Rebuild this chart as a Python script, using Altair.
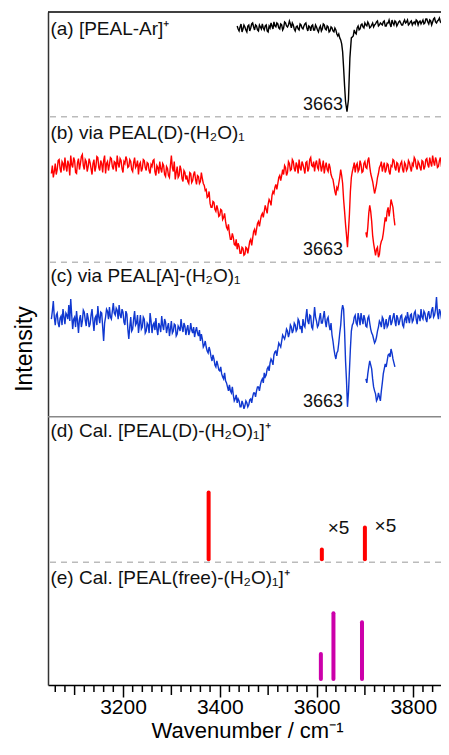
import altair as alt
import pandas as pd

FONT = "Liberation Sans"
X_DOMAIN = [3045, 3857.3]
Y_DOMAIN = [0, 675]

# ---------------- data ----------------
# (a) [PEAL-Ar]+  (relative intensity), two interleaved readings
a_wn = list(range(3436, 3661, 4)) + [3663, 3666, 3669, 3672] + list(range(3676, 3869, 4))
a_int = [2, -3, 4, -1, 1, -4, 3, 0, 5, -2,
         2, -3, 1, 4, -2, 3, -4, 0, 2, 6,
         1, 4, -1, 3, 0, 5, 1, 7, 0, 3,
         -3, 2, -2, 3, -1, 4, 0, 2, -3, 3,
         -2, 1, -4, 2, -1, 3, -2, 1, -3, 0,
         -4, -2, -8, -10, -16, -40, -74,
         -84, -72, -30, -10,
         -8, -5, 0, -2, 3, 1, 5, 2, 4, 1,
         5, 3, 6, 2, 5, 3, 7, 2, 5, 4,
         8, 3, 6, 4, 7, 3, 6, 5, 8, 4,
         7, 5, 4, 7, 6, 4, 8, 5, 9, 4,
         7, 6, 10, 5, 8, 6, 9, 7, 8]
a_wn2 = list(range(3438, 3659, 4)) + [3674] + list(range(3678, 3867, 4))
a_int2 = [-1, 1, -4, 3, -2, 2, -3, 4, 1, 3,
          -2, 3, -1, 0, 2, -3, 2, 5, -1, 2,
          5, 0, 4, -2, 6, 2, 3, 4, 5, -1,
          1, -1, 4, 0, 2, 5, -3, 1, 2, -2,
          3, -2, 0, -3, 4, -1, 2, -4, 1, -3,
          0, -6, -6, -12, -24, -58,
          -9,
          -2, -6, 2, -1, 4, 0, 3, 6, 0, 3,
          1, 4, 7, 3, 4, 6, 2, 5, 8, 1,
          5, 7, 2, 6, 5, 3, 8, 6, 3, 6,
          3, 6, 8, 3, 7, 6, 4, 9, 6, 8,
          3, 9, 6, 7, 10, 5, 8, 6]

# (b) and (c) share the same wavenumber grids
bc_wn = list(range(3052, 3869, 4))
bc_wn2 = list(range(3054, 3867, 4))
b_int = [-4, -8, 6, 0, 10, -3, 6, 12, -2, 5,
         14, 2, 9, -4, 11, 6, 15, 0, 8, 3,
         7, -5, 10, 3, 12, -1, 6, 9, -4, 8,
         5, 11, 0, 7, 14, 2, 9, -3, 6, 10,
         3, 8, -2, 12, 4, -5, 7, 1, 9, -1,
         6, -4, 3, 10, -6, 2, 8, -3, 4, -7,
         1, -8, 14, -2, -10, 3, -6, 0, -12, -3,
         -6, -14, -4, -11, -2, -15, -7, -12, -9, -16,
         -20, -27, -34, -38, -33, -42, -40, -46, -41, -48,
         -52, -60, -64, -70, -68, -76, -80, -77, -84, -79,
         -85, -79, -78, -70, -69, -60, -60, -52, -51, -44,
         -42, -40, -35, -32, -26, -24, -15, -14, -6, -6,
         -5, 2, -3, 6, 0, 8, -2, 4, 10, -1,
         5, -4, 8, 1, 12, 3, -2, 9, 0, 6,
         3, -4, 7, -2, 2, -8, -16, -26, -20, -8,
         -6, -30, -55, -78, -45, -8, 2, -3, 6, 0,
         5, -2, 8, 1, 12, -4, -12, -24, -15, -4,
         4, -2, 7, 0, 5, -5, 3, 9, -1, 6,
         2, 8, -3, 5, 1, 7, -2, 4, 10, 0,
         6, -1, 8, 3, 11, 2, 7, 14, 4, 9,
         3, 12, 5, 8, 2]
b_int2 = [4, -2, -5, 9, 1, 8, -1, 3, 9, -6,
          5, 12, -3, 7, 0, 13, 4, 10, -2, 11,
          1, 6, -2, 13, 2, 9, -3, 14, 6, -1,
          12, 3, 8, -2, 6, 11, 1, 8, 13, 2,
          10, 0, 7, 2, 9, 5, -2, 10, 2, 7,
          -1, 5, 9, -2, 4, -4, 1, 6, -5, 3,
          -6, 4, 2, 8, -3, -8, 4, -9, -1, -10,
          -12, -3, -13, -5, -10, -6, -14, -3, -14, -21,
          -28, -22, -38, -32, -40, -36, -47, -40, -50, -44,
          -58, -55, -70, -64, -75, -70, -74, -84, -78, -86,
          -78, -84, -72, -76, -62, -66, -54, -57, -46, -48,
          -36, -44, -30, -36, -22, -18, -20, -8, -11, 0,
          4, -6, 8, -1, 10, 1, 7, -4, 2, 8,
          1, 7, -2, 10, 4, 8, 6, 2, 11, -2,
          9, 3, 0, 6, -5, -10, -22, -18, -14, 0,
          -14, -42, -66, -62, -22, -2, 7, 4, -2, 9,
          -3, 6, 2, 9, 3, -8, -18, -20, -8, 2,
          8, 3, -3, 6, -2, 4, 10, 2, 7, -3,
          6, 0, 7, -1, 9, 2, 6, 12, 3, 8,
          2, 9, 0, 10, 5, 12, 3, 8, 12, 2,
          9, 4, 11, 6]
c_int = [2, 20, -4, 8, -6, 5, 12, -3, 6, 16,
         22, -8, 4, 10, -12, 6, 0, 9, -5, 3,
         -3, 12, -10, 5, 15, -2, 8, -20, 4, 10,
         14, 2, 18, 6, 11, 16, 3, 9, -4, 7,
         -18, 4, -8, 10, -2, -12, 6, -6, 2, -10,
         -4, 8, -12, -2, 3, -14, -5, 5, -9, -1,
         -6, -15, 0, -10, -4, -13, -7, 2, -11, -5,
         -8, -14, -2, -12, -16, -6, -15, -20, -18, -24,
         -26, -32, -30, -40, -38, -46, -44, -50, -53, -58,
         -60, -66, -64, -72, -74, -78, -82, -80, -86, -83,
         -85, -82, -84, -78, -76, -72, -70, -66, -64, -58,
         -52, -54, -46, -42, -40, -34, -30, -28, -24, -20,
         -16, -14, -10, -12, -6, -9, -4, -8, 0, -5,
         2, -6, 12, -3, 5, -8, 14, 0, -4, 8,
         -2, 10, -6, 4, -9, -14, -28, -38, -30, -12,
         10, 12, -40, -86, -50, -10, -2, 6, -4, 3,
         8, -3, 2, -6, 5, -8, -14, -22, -16, -6,
         -2, 4, -8, 2, -4, 6, -1, 8, -5, 3,
         0, 6, -6, 4, 9, -2, 7, 1, 10, -3,
         5, 12, 2, 8, -1, 10, 4, 14, 6, 24,
         2, 9, 4, 11, 6]
c_int2 = [10, 4, 6, -2, 3, -4, 4, 8, 2, 0,
          6, 2, -6, 0, 2, -6, 11, 1, 8, -6,
          6, 0, 3, -4, 4, 9, -6, -2, 12, 2,
          4, 10, 8, 13, 2, 6, 12, -1, 10, -8,
          -6, -10, 2, -4, 6, -3, -8, 4, -12, -2,
          -12, 0, -4, -9, -8, -2, -11, -4, 2, -12,
          -2, -8, -12, -3, -15, -5, -10, -6, -2, -14,
          -4, -10, -9, -6, -10, -12, -9, -13, -26, -20,
          -30, -26, -36, -34, -44, -40, -49, -46, -56, -52,
          -62, -70, -70, -66, -80, -74, -78, -86, -80, -88,
          -80, -86, -79, -82, -72, -76, -66, -70, -60, -62,
          -56, -48, -50, -38, -44, -31, -35, -22, -26, -14,
          -18, -8, -16, -4, -12, -2, -10, 2, -8, -12,
          -4, 4, 0, 6, -6, 2, 4, -6, 3, -2,
          4, 0, 2, -4, -2, -20, -34, -32, -22, -4,
          16, -10, -60, -72, -28, -4, 4, -2, 8, -4,
          2, 6, -5, 3, -2, -12, -18, -20, -10, 0,
          -6, 2, -3, -6, 3, -4, 4, 0, 6, -4,
          5, -4, 2, -2, 3, 6, -1, 8, 2, 6,
          0, 4, 10, 2, 7, 3, 11, 4, 12, 8,
          12, 3, 8, 4]

# offset inset segments (3700-3760 cm-1) of (b) and (c)
inset_wn = list(range(3702, 3763, 2))
b_inset = [-63, -68, -58, -44, -36, -42, -52, -66, -74, -80, -86, -80, -78, -88, -85, -76,
           -72, -70, -64, -56, -48, -52, -42, -38, -47, -40, -30, -34, -38, -48, -56]
c_inset = [-58, -62, -53, -46, -40, -44, -48, -58, -66, -70, -73, -80, -78, -72, -76, -80,
           -70, -62, -53, -48, -43, -46, -40, -34, -33, -36, -28, -32, -38, -42, -46]

# calculated stick spectra
d_wn = [3377, 3611, 3700]
d_int = [67, 10, 32]
e_wn = [3609, 3635, 3694]
e_int = [25, 66, 57]

panel_labels = ["(a) [PEAL-Ar]\u207a",
                "(b) via PEAL(D)-(H\u2082O)\u2081",
                "(c) via PEAL[A]-(H\u2082O)\u2081",
                "(d) Cal. [PEAL(D)-(H\u2082O)\u2081]\u207a",
                "(e) Cal. [PEAL(free)-(H\u2082O)\u2081]\u207a"]
peak_label = "3663"
scale_label = "\u00d75"

major_ticks = [3200, 3400, 3600, 3800]
mid_ticks = [3100, 3300, 3500, 3700]
minor_ticks = [v for v in range(3060, 3861, 20) if v % 100 != 0]

# ---------------- layout (offsets of each panel on the common axis) ----------------
off = {"a": 659, "b": 517, "c": 365, "d": 126, "e": 6}
label_y = [658, 554, 410, 255, 107]
peak_y = [582, 436, 284]
dash_y = [570, 424, 123]
solid_y = [269]
W = 393
H = 673

rows = []
for wl, vl, s, o in [(a_wn, a_int, "a", "a"), (a_wn2, a_int2, "a", "a"),
                     (bc_wn, b_int, "b", "b"), (bc_wn2, b_int2, "b", "b"),
                     (inset_wn, b_inset, "b2", "b"),
                     (bc_wn, c_int, "c", "c"), (bc_wn2, c_int2, "c", "c"),
                     (inset_wn, c_inset, "c2", "c")]:
    for w, v in zip(wl, vl):
        rows.append({"wn": w, "y": off[o] + v, "s": s})
traces = pd.DataFrame(rows).sort_values(["s", "wn"])

sticks = pd.DataFrame(
    [{"wn": w, "y0": off["d"], "y1": off["d"] + v, "s": "d"} for w, v in zip(d_wn, d_int)]
    + [{"wn": w, "y0": off["e"], "y1": off["e"] + v, "s": "e"} for w, v in zip(e_wn, e_int)]
)

labels_df = pd.DataFrame({"wn": [3050] * 5, "y": label_y, "t": panel_labels})
peak_df = pd.DataFrame({"wn": [3655] * 3, "y": peak_y, "t": [peak_label] * 3})
x5_df = pd.DataFrame({"wn": [3623, 3720], "y": [157, 159], "t": [scale_label] * 2})
dash_df = pd.DataFrame({"y": dash_y})
solid_df = pd.DataFrame({"y": solid_y})
frame_df = pd.DataFrame({"v": [0]})
mid_df = pd.DataFrame({"wn": mid_ticks})
minor_df = pd.DataFrame({"wn": minor_ticks})

xs = alt.Scale(domain=X_DOMAIN, nice=False, zero=False)
ys = alt.Scale(domain=Y_DOMAIN, nice=False, zero=False)

x_axis = alt.Axis(
    values=major_ticks, format="d",
    tickSize=12, tickWidth=1.5, tickColor="black",
    labelFont=FONT, labelFontSize=21, labelColor="black",
    labelBaseline="alphabetic", labelPadding=16,
    labelOverlap=False, labelFlush=False,
    domainColor="black", domainWidth=1.5,
    title="Wavenumber / cm\u207b\u00b9", titleFont=FONT, titleFontSize=22,
    titleFontWeight="normal", titleColor="black",
    titleBaseline="alphabetic", titleY=52, titleX=199,
    grid=False,
)
y_axis = alt.Axis(
    title="Intensity", ticks=False, labels=False, grid=False,
    domainColor="#333333", domainWidth=1.5,
    titleFont=FONT, titleFontSize=23, titleFontWeight="normal",
    titleColor="black", titlePadding=12,
)

lines = alt.Chart(traces).mark_line(strokeWidth=1.4, clip=True).encode(
    x=alt.X("wn:Q", scale=xs, axis=x_axis),
    y=alt.Y("y:Q", scale=ys, axis=y_axis),
    color=alt.Color("s:N", scale=alt.Scale(domain=["a", "b", "b2", "c", "c2"],
                                           range=["#000000", "#ff0000", "#ff0000", "#1038d0", "#1038d0"]),
                    legend=None),
    detail="s:N",
    order="wn:Q",
)

dash = alt.Chart(dash_df).mark_rule(color="#bbbbbb", strokeWidth=1.5, strokeDash=[6, 5]).encode(
    y=alt.Y("y:Q", scale=ys))
solid = alt.Chart(solid_df).mark_rule(color="#888888", strokeWidth=1.5).encode(
    y=alt.Y("y:Q", scale=ys))
top = alt.Chart(frame_df).mark_rule(color="black", strokeWidth=1.5).encode(
    y=alt.value(0), x=alt.value(0), x2=alt.value(W))

mid_t = alt.Chart(mid_df).mark_rule(color="black", strokeWidth=1.5).encode(
    x=alt.X("wn:Q", scale=xs), y=alt.value(H), y2=alt.value(H + 10))
minor_t = alt.Chart(minor_df).mark_rule(color="black", strokeWidth=1.5).encode(
    x=alt.X("wn:Q", scale=xs), y=alt.value(H), y2=alt.value(H + 7))

stick_layer = alt.Chart(sticks).mark_rule(strokeWidth=4, strokeCap="round").encode(
    x=alt.X("wn:Q", scale=xs),
    y=alt.Y("y0:Q", scale=ys),
    y2="y1:Q",
    color=alt.Color("s:N", scale=alt.Scale(domain=["d", "e"], range=["#ff0000", "#cc00aa"]), legend=None),
)

lab = alt.Chart(labels_df).mark_text(align="left", baseline="middle", font=FONT, fontSize=19,
                                     color="#111111").encode(
    x=alt.X("wn:Q", scale=xs), y=alt.Y("y:Q", scale=ys), text="t:N")
pk = alt.Chart(peak_df).mark_text(align="right", baseline="middle", font=FONT, fontSize=18,
                                  color="#111111").encode(
    x=alt.X("wn:Q", scale=xs), y=alt.Y("y:Q", scale=ys), text="t:N")
x5 = alt.Chart(x5_df).mark_text(align="left", baseline="middle", font=FONT, fontSize=19,
                                color="#111111").encode(
    x=alt.X("wn:Q", scale=xs), y=alt.Y("y:Q", scale=ys), text="t:N")

chart = alt.layer(lines, dash, solid, top, mid_t, minor_t, stick_layer, lab, pk, x5).resolve_scale(
    color="independent"
).properties(
    width=W, height=H,
    autosize=alt.AutoSizeParams(type="none"),
    padding={"left": 40, "top": 4, "right": 0, "bottom": 735 - 4 - H},
).configure_view(stroke=None)

chart.save("out.html", embed_options={"renderer": "svg", "actions": False})
